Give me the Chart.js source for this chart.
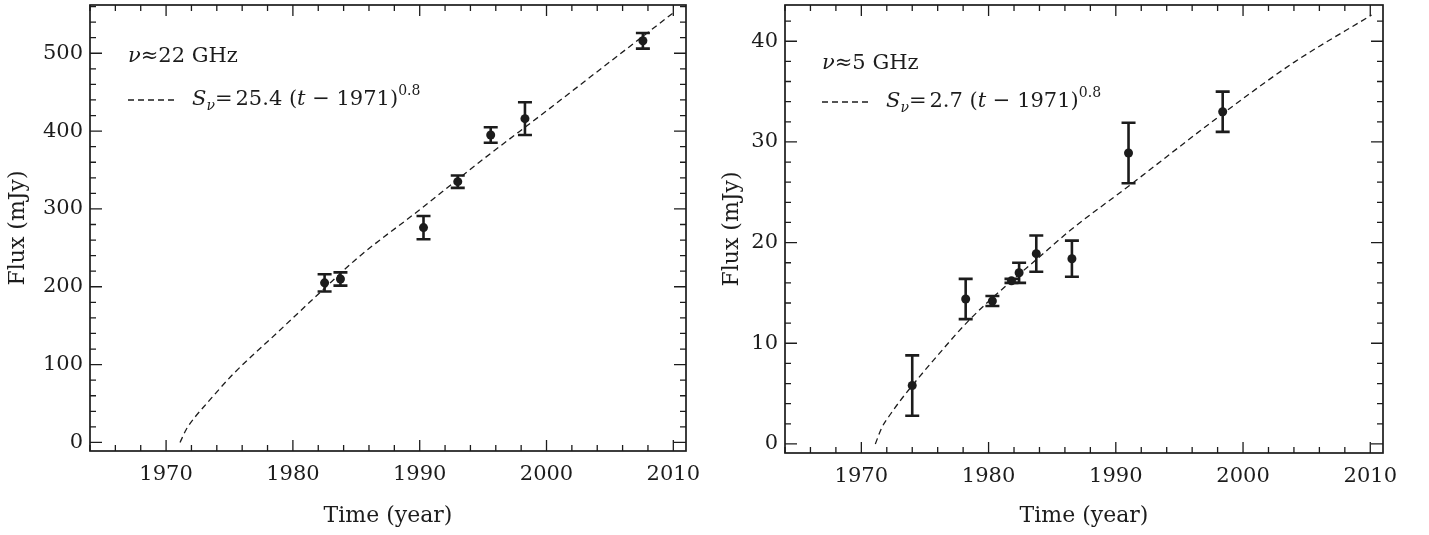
<!DOCTYPE html>
<html>
<head>
<meta charset="utf-8">
<script src="https://cdn.jsdelivr.net/npm/chart.js@4/dist/chart.umd.min.js"></script>
<style>
  html, body { margin: 0; padding: 0; background: #fff; }
  .panel { position: absolute; top: 0; height: 535px; }
  #left-panel { left: 0; width: 714px; }
  #right-panel { left: 714px; width: 715px; }
</style>
</head>
<body>
<div class="panel" id="left-panel"><canvas id="chart-22"></canvas></div>
<div class="panel" id="right-panel"><canvas id="chart-5"></canvas></div>
<script>
// 22 GHz measurements
const years22 = [1982.5, 1983.75, 1990.3, 1993.0, 1995.6, 1998.3, 2007.6];
const flux22 = [205, 210, 276, 335, 395, 416, 516];
const err22 = [11, 8.5, 15, 8, 10, 21, 10];
// dashed fit curve
const fitYears22 = [1971.1, 1971.6, 1972.3, 1973.2, 1975.3, 1978.7, 1982.1, 1985.1, 1990.0, 1994.7, 2000.0, 2005.0, 2010.0];
const fitFlux22 = [0, 17, 33, 50, 88, 140, 192, 237, 299, 360, 426, 489, 552];

// 5 GHz measurements
const years5 = [1974.0, 1978.2, 1980.3, 1981.8, 1982.4, 1983.75, 1986.55, 1991.0, 1998.4];
const flux5 = [5.8, 14.4, 14.2, 16.2, 17.0, 18.9, 18.4, 28.9, 33.0];
const err5 = [3.0, 2.0, 0.5, 0.2, 1.0, 1.8, 1.8, 3.0, 2.0];
const fitYears5 = [1971.1, 1971.6, 1972.2, 1973.0, 1974.0, 1976.0, 1978.4, 1981.8, 1983.75, 1986.4, 1991.0, 1998.4, 2004.0, 2010.1];
const fitFlux5 = [0, 1.6, 2.8, 4.2, 5.8, 8.8, 12.2, 16.2, 18.3, 21.2, 25.6, 32.8, 37.9, 42.6];

// labels
const freq22 = '22 GHz';
const freq5 = '5 GHz';
const coef22 = '25.4';
const coef5 = '2.7';
const fitT0 = '1971';
const fitExp = '0.8';
const xTitle = 'Time (year)';
const yTitle = 'Flux (mJy)';

const FONT = "'DejaVu Serif', 'Liberation Serif', serif";
const INK = '#1c1c1c';

Chart.defaults.font.family = FONT;
Chart.defaults.font.size = 21;
Chart.defaults.color = INK;

// inward ticks on all four sides + frame
const frameTicks = {
  id: 'frameTicks',
  afterDraw(chart, args, opts) {
    const { ctx, chartArea: a, scales: { x, y } } = chart;
    ctx.save();
    ctx.strokeStyle = INK;
    ctx.lineWidth = 1.3;
    ctx.beginPath();
    const eps = 1e-6;
    for (let v = Math.ceil(x.min / opts.xMinor) * opts.xMinor; v <= x.max + eps; v += opts.xMinor) {
      const major = Math.abs(v / opts.xMajor - Math.round(v / opts.xMajor)) < eps;
      const len = major ? 11 : 6;
      const px = x.getPixelForValue(v);
      ctx.moveTo(px, a.bottom); ctx.lineTo(px, a.bottom - len);
      ctx.moveTo(px, a.top); ctx.lineTo(px, a.top + len);
    }
    for (let v = Math.ceil(y.min / opts.yMinor) * opts.yMinor; v <= y.max + eps; v += opts.yMinor) {
      const major = Math.abs(v / opts.yMajor - Math.round(v / opts.yMajor)) < eps;
      const len = major ? 12 : 6;
      const py = y.getPixelForValue(v);
      ctx.moveTo(a.left, py); ctx.lineTo(a.left + len, py);
      ctx.moveTo(a.right, py); ctx.lineTo(a.right - len, py);
    }
    ctx.stroke();
    ctx.lineWidth = 1.7;
    ctx.strokeRect(a.left, a.top, a.right - a.left, a.bottom - a.top);
    ctx.restore();
  }
};

// vertical error bars with caps
const errorBars = {
  id: 'errorBars',
  beforeDatasetsDraw(chart) {
    const { ctx, scales: { x, y } } = chart;
    ctx.save();
    ctx.strokeStyle = INK;
    ctx.lineWidth = 2.6;
    chart.data.datasets.forEach(ds => {
      if (!ds.errors) return;
      ds.data.forEach((p, i) => {
        const e = ds.errors[i];
        const px = x.getPixelForValue(p.x);
        const top = y.getPixelForValue(p.y + e);
        const bot = y.getPixelForValue(p.y - e);
        ctx.beginPath();
        ctx.moveTo(px, top); ctx.lineTo(px, bot);
        ctx.moveTo(px - 7, top); ctx.lineTo(px + 7, top);
        ctx.moveTo(px - 7, bot); ctx.lineTo(px + 7, bot);
        ctx.stroke();
      });
    });
    ctx.restore();
  }
};

function drawPieces(ctx, x, y, pieces) {
  pieces.forEach(p => {
    ctx.font = (p.italic ? 'italic ' : '') + (p.size || 21) + 'px ' + FONT;
    ctx.fillText(p.text, x, y + (p.dy || 0));
    x += ctx.measureText(p.text).width + (p.gap || 0);
  });
}

// frequency label and fit legend
const annotation = {
  id: 'annotation',
  afterDraw(chart, args, opts) {
    const ctx = chart.ctx;
    ctx.save();
    ctx.fillStyle = INK;
    ctx.textBaseline = 'middle';
    drawPieces(ctx, opts.freqX, opts.freqY, [
      { text: '\u03bd', italic: true },
      { text: '\u2248' },
      { text: opts.freq }
    ]);
    ctx.strokeStyle = INK;
    ctx.lineWidth = 1.3;
    ctx.setLineDash([6, 4]);
    ctx.beginPath();
    ctx.moveTo(opts.freqX, opts.fitY);
    ctx.lineTo(opts.freqX + 50, opts.fitY);
    ctx.stroke();
    ctx.setLineDash([]);
    drawPieces(ctx, opts.freqX + 64, opts.fitY, [
      { text: 'S', italic: true },
      { text: '\u03bd', italic: true, size: 14, dy: 6 },
      { text: '=', gap: 3 },
      { text: opts.coef + ' (' },
      { text: 't', italic: true },
      { text: ' \u2212 ' + fitT0 + ')' },
      { text: fitExp, size: 14, dy: -9 }
    ]);
    ctx.restore();
  }
};

function toPoints(xs, ys) {
  return xs.map((v, i) => ({ x: v, y: ys[i] }));
}

function renderPanel(canvasId, cfg) {
  new Chart(document.getElementById(canvasId), {
    type: 'scatter',
    data: {
      datasets: [
        {
          label: 'Fit',
          data: toPoints(cfg.fitX, cfg.fitY),
          showLine: true,
          borderColor: INK,
          borderWidth: 1.3,
          borderDash: [6, 4],
          cubicInterpolationMode: 'monotone',
          pointRadius: 0,
          fill: false
        },
        {
          label: 'Data',
          data: toPoints(cfg.x, cfg.y),
          errors: cfg.err,
          backgroundColor: INK,
          borderColor: INK,
          pointRadius: 4.5,
          borderWidth: 0
        }
      ]
    },
    options: {
      responsive: true,
      maintainAspectRatio: false,
      animation: false,
      layout: { padding: { left: 0, top: 5, right: cfg.padRight, bottom: 0 } },
      plugins: {
        legend: { display: false },
        tooltip: { enabled: false },
        frameTicks: cfg.ticks,
        annotation: cfg.note
      },
      scales: {
        x: {
          type: 'linear',
          min: 1964,
          max: 2011,
          grid: { display: false, drawTicks: false },
          border: { display: false },
          ticks: { stepSize: 10, includeBounds: false, padding: 11, maxRotation: 0, callback: v => String(v) },
          title: { display: true, text: xTitle, font: { size: 22 }, padding: { top: 0, bottom: 6 } },
          afterFit: s => { s.height = cfg.xHeight; s.paddingLeft = 0; s.paddingRight = 0; }
        },
        y: {
          type: 'linear',
          min: cfg.yMin,
          max: cfg.yMax,
          grid: { display: false, drawTicks: false },
          border: { display: false },
          ticks: { stepSize: cfg.yStep, includeBounds: false, padding: 7, callback: v => String(v) },
          title: { display: true, text: yTitle, font: { size: 22 }, padding: { top: 5, bottom: 0 } },
          afterFit: s => { s.width = cfg.yWidth; s.paddingTop = 0; s.paddingBottom = 0; }
        }
      }
    },
    plugins: [errorBars, frameTicks, annotation]
  });
}

renderPanel('chart-22', {
  x: years22, y: flux22, err: err22, fitX: fitYears22, fitY: fitFlux22,
  yMin: -11, yMax: 562, yStep: 100,
  padRight: 28, xHeight: 84, yWidth: 90,
  ticks: { xMajor: 10, xMinor: 2, yMajor: 100, yMinor: 20 },
  note: { freq: freq22, coef: coef22, freqX: 128, freqY: 57, fitY: 100 }
});

renderPanel('chart-5', {
  x: years5, y: flux5, err: err5, fitX: fitYears5, fitY: fitFlux5,
  yMin: -0.9, yMax: 43.6, yStep: 10,
  padRight: 46, xHeight: 82, yWidth: 71,
  ticks: { xMajor: 10, xMinor: 2, yMajor: 10, yMinor: 2 },
  note: { freq: freq5, coef: coef5, freqX: 108, freqY: 64, fitY: 102 }
});
</script>
</body>
</html>
